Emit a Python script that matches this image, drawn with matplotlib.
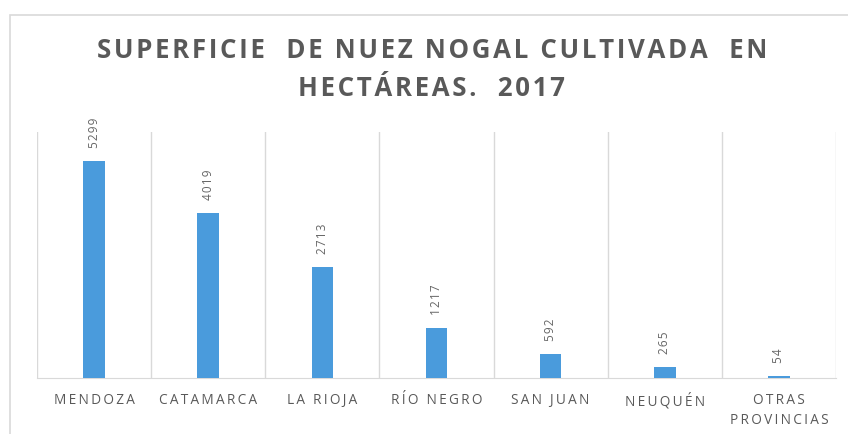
import matplotlib.pyplot as plt
from matplotlib.patches import Rectangle

provincias = ["MENDOZA", "CATAMARCA", "LA RIOJA", "RÍO NEGRO", "SAN JUAN",
              "NEUQUÉN", "OTRAS\nPROVINCIAS"]
hectareas = [5299, 4019, 2713, 1217, 592, 265, 54]
titulo = ["SUPERFICIE  DE NUEZ NOGAL CULTIVADA  EN", "HECTÁREAS.  2017"]

color = "#4a9bdc"
gris = "#595959"
fuente = ["Open Sans", "DejaVu Sans"]


def espaciar(texto, sep):
    # separa las letras para imitar el espaciado de la fuente original
    return "\n".join(sep.join(linea) for linea in texto.split("\n"))


fig = plt.figure(figsize=(8.48, 4.34), dpi=100)
fig.patches.append(Rectangle((10 / 848, -0.1), 1.2, (434 - 15) / 434 + 0.1,
                             transform=fig.transFigure, fill=False,
                             edgecolor="#d9d9d9", linewidth=1.2))

ax = fig.add_axes([37 / 848, (434 - 378) / 434, (836 - 37) / 848, (378 - 132) / 434])
x = range(len(provincias))
ax.bar(x, hectareas, width=0.19, color=color, zorder=3)
for i, v in enumerate(hectareas):
    ax.text(i, v + 320, espaciar(str(v), "\u200a"), rotation=90, ha="center",
            va="bottom", fontsize=8.5, color="#666666", family=fuente)

ax.set_xlim(-0.5, len(provincias) - 0.5)
ax.set_ylim(0, 6000)
ax.set_yticks([])
ax.set_xticks([i + 0.5 for i in range(-1, len(provincias))])
ax.set_xticklabels([])
ax.tick_params(axis="x", length=0)
ax.grid(axis="x", color="#d9d9d9", linewidth=1, zorder=0)
for i, lab in enumerate(provincias):
    ax.text(i, -0.062, espaciar(lab, "\u2009"), transform=ax.get_xaxis_transform(),
            ha="center", va="top", fontsize=9.8, color=gris, linespacing=1.45,
            family=fuente)
for s in ["top", "left", "right"]:
    ax.spines[s].set_visible(False)
ax.spines["bottom"].set_color("#d9d9d9")

for j, linea in enumerate(titulo):
    fig.text(432 / 848, 1 - (50 + 38 * j) / 434, espaciar(linea, "\u200a"),
             ha="center", va="center", fontsize=18.6, fontweight="bold",
             color=gris, family=fuente)

fig.savefig("out.png", dpi=100)
